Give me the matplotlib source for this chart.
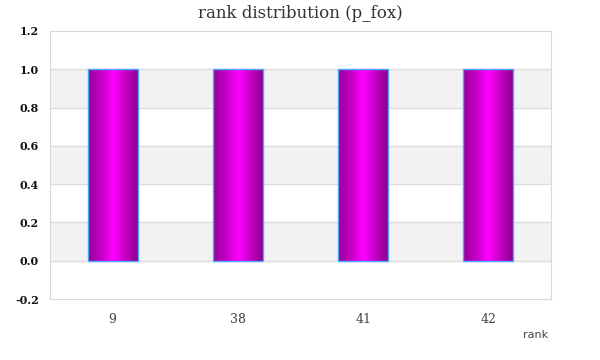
import matplotlib.pyplot as plt
import numpy as np
from matplotlib.colors import LinearSegmentedColormap

ranks = ['9', '38', '41', '42']
counts = [1.0, 1.0, 1.0, 1.0]
yticks = [-0.2, 0.0, 0.2, 0.4, 0.6, 0.8, 1.0, 1.2]

fig = plt.figure(figsize=(6, 3.6), dpi=100)
ax = fig.add_axes([50 / 600, 61 / 360, 501 / 600, 268 / 360])

# alternating bands
for lo in [0.0, 0.4, 0.8]:
    ax.axhspan(lo, lo + 0.2, color='#f2f2f2', zorder=0, lw=0)
for y in yticks[1:-1]:
    ax.axhline(y, color='#dddddd', lw=1, zorder=1)

grad = LinearSegmentedColormap.from_list('g', ['#960096', '#c400c4', '#ff00ff', '#c000c0', '#880088'])
img = np.linspace(0, 1, 256).reshape(1, -1)

x = np.arange(len(ranks))
bars = ax.bar(x, counts, width=0.4, color='none', edgecolor='#4da6ff', lw=1, zorder=3)
for b in bars:
    x0, y0 = b.get_x(), b.get_y()
    w, h = b.get_width(), b.get_height()
    im = ax.imshow(img, cmap=grad, aspect='auto', extent=[x0, x0 + w, y0, y0 + h], zorder=2)
    im.set_clip_path(b)

ax.set_xlim(-0.5, 3.5)
ax.set_ylim(-0.2, 1.2)
ax.set_xticks(x)
ax.set_xticklabels(ranks, family='DejaVu Serif', fontsize=9, color='#444444')
ax.set_yticks(yticks)
ax.set_yticklabels(['%.1f' % v for v in yticks], family='DejaVu Serif', fontsize=8,
                   color='#111111', fontweight='semibold')
ax.tick_params(length=0, pad=8)
ax.tick_params(axis='x', pad=10)
for s in ax.spines.values():
    s.set_color('#d9d9d9')

fig.text(0.5, 1 - 14 / 360, 'rank distribution (p_fox)', ha='center', va='center',
         family='DejaVu Serif', fontsize=12, color='#333333')
fig.text(548 / 600, 1 - 335 / 360, 'rank', ha='right', va='center', fontsize=8, color='#444444')

fig.savefig('out.png', dpi=100)
